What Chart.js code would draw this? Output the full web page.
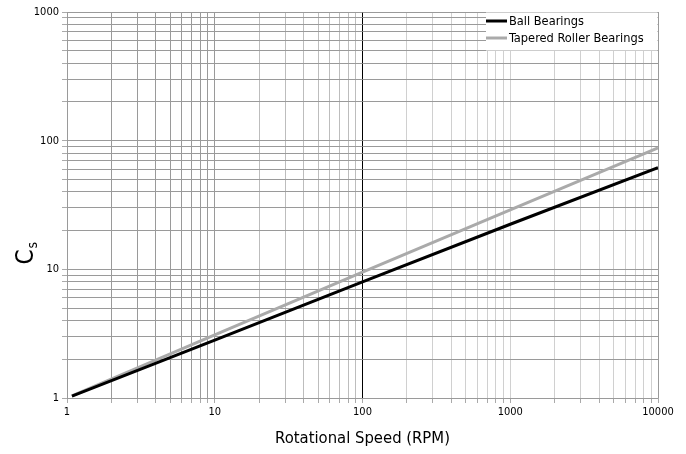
<!DOCTYPE html>
<html><head><meta charset="utf-8">
<script src="https://cdn.jsdelivr.net/npm/chart.js@4.4.0/dist/chart.umd.min.js"></script>
<style>html,body{margin:0;padding:0;background:#fff;overflow:hidden}#wrap{width:686px;height:454px;position:relative}</style>
</head><body><div id="wrap"><canvas id="c" width="686" height="454"></canvas></div>
<script>
// ---- data ----
const speedRPM = [1.08, 10, 100, 1000, 10000];
const ballBearings = [1.035, 2.82, 8.0, 22.4, 61.6];
const taperedRollerBearings = [1.04, 3.1, 9.5, 29, 88];
const xDecadeLabels = [1, 10, 100, 1000, 10000];
const yDecadeLabels = [1, 10, 100, 1000];
const seriesNames = ['Ball Bearings', 'Tapered Roller Bearings'];
const xTitle = 'Rotational Speed (RPM)';
const yTitleMain = 'C';
const yTitleSub = 's';

const FONT = "'Liberation Sans Narrow', 'DejaVu Sans Condensed', 'Arial Narrow', sans-serif";

function logTicks(min, max) {
  const t = [];
  for (let d = min; d < max; d *= 10) for (let m = 1; m < 10; m++) t.push({value: m * d});
  t.push({value: max});
  return t;
}
function pts(xs, ys) { return xs.map((x, i) => ({x: x, y: ys[i]})); }

const overlay = {
  id: 'overlay',
  afterDraw(chart) {
    const c = chart.ctx, a = chart.chartArea;
    c.save();
    // x title
    c.fillStyle = '#000';
    c.font = '16.5px ' + FONT;
    c.textAlign = 'center'; c.textBaseline = 'middle';
    c.fillText(xTitle, (a.left + a.right) / 2, 439);
    // y title with subscript
    c.save();
    c.translate(27, 254);
    c.rotate(-Math.PI / 2);
    c.font = '24px ' + FONT;
    c.textAlign = 'left'; c.textBaseline = 'middle';
    const w = c.measureText(yTitleMain).width;
    c.fillText(yTitleMain, -w / 2 - 3, 0);
    c.font = '14px ' + FONT;
    c.fillText(yTitleSub, w / 2 - 2, 6);
    c.restore();
    // legend
    const lx = 486, ly = a.top + 0.5;
    c.fillStyle = '#fff';
    c.fillRect(lx, ly, a.right - lx - 0.5, 38);
    const ds = chart.data.datasets;
    const rows = [21, 38];
    c.font = '12.7px ' + FONT;
    c.textAlign = 'left'; c.textBaseline = 'middle';
    ds.forEach((d, i) => {
      c.strokeStyle = d.borderColor; c.lineWidth = 3;
      c.beginPath(); c.moveTo(lx, rows[i]); c.lineTo(lx + 21, rows[i]); c.stroke();
      c.fillStyle = '#000';
      c.fillText(d.label, lx + 23, rows[i] + 0.5);
    });
    c.restore();
  }
};

function xGridColor(ctx) {
  const v = ctx.tick ? ctx.tick.value : 0;
  if (v === 100) return '#000';
  if (v <= 10) return '#9a9a9a';
  if (v < 100) return '#bdbdbd';
  if (v === 10000) return '#9a9a9a';
  return '#d0d0d0';
}

new Chart(document.getElementById('c'), {
  type: 'line',
  data: {
    datasets: [
      {label: seriesNames[0], data: pts(speedRPM, ballBearings), borderColor: '#000', borderWidth: 3, pointRadius: 0, tension: 0},
      {label: seriesNames[1], data: pts(speedRPM, taperedRollerBearings), borderColor: '#aaaaaa', borderWidth: 3, pointRadius: 0, tension: 0}
    ]
  },
  options: {
    responsive: false, animation: false, devicePixelRatio: 1,
    layout: {padding: {top: 12, right: 28, left: 0, bottom: 0}},
    plugins: {legend: {display: false}, tooltip: {enabled: false}, title: {display: false}},
    scales: {
      x: {
        type: 'logarithmic', min: 1, max: 10000,
        afterBuildTicks: s => { s.ticks = logTicks(1, 10000); },
        afterFit: s => { s.height = 56; },
        ticks: {autoSkip: false, maxRotation: 0, padding: 3, color: '#000',
                font: {family: FONT, size: 11},
                callback: v => xDecadeLabels.includes(v) ? String(v) : ''},
        grid: {color: xGridColor, lineWidth: 1, tickLength: 5, tickColor: '#aaaaaa'},
        border: {display: false}
      },
      y: {
        type: 'logarithmic', min: 1, max: 1000,
        afterBuildTicks: s => { s.ticks = logTicks(1, 1000); },
        afterFit: s => { s.width = 67; },
        ticks: {autoSkip: false, padding: 3, color: '#000',
                font: {family: FONT, size: 11},
                callback: v => yDecadeLabels.includes(v) ? String(v) : ''},
        grid: {color: '#9a9a9a', lineWidth: 1, tickLength: 5, tickColor: '#aaaaaa'},
        border: {display: false}
      }
    }
  },
  plugins: [overlay]
});
</script></body></html>
